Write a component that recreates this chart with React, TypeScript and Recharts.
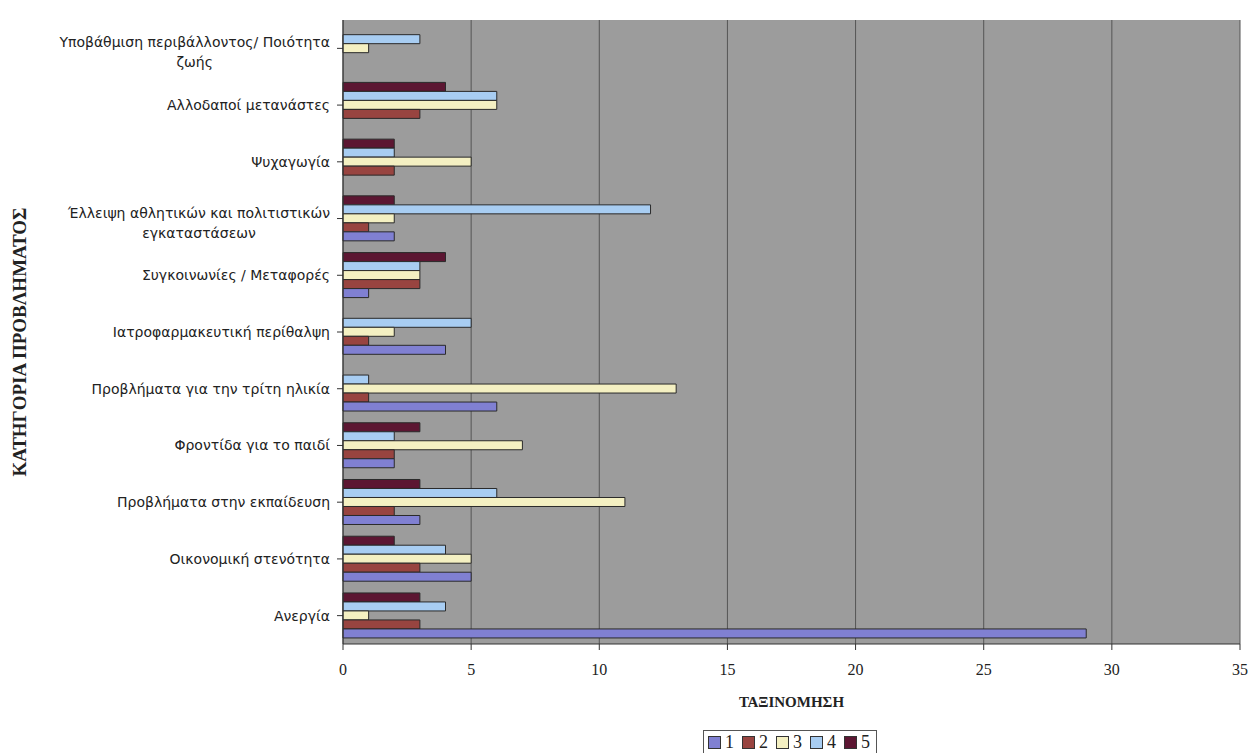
import React from 'react';
import { BarChart, Bar, XAxis, YAxis, CartesianGrid } from 'recharts';

const categories = [
  'Υποβάθμιση περιβάλλοντος/ Ποιότητα ζωής',
  'Αλλοδαποί μετανάστες',
  'Ψυχαγωγία',
  'Έλλειψη αθλητικών και πολιτιστικών εγκαταστάσεων',
  'Συγκοινωνίες / Μεταφορές',
  'Ιατροφαρμακευτική περίθαλψη',
  'Προβλήματα για την τρίτη ηλικία',
  'Φροντίδα για το παιδί',
  'Προβλήματα στην εκπαίδευση',
  'Οικονομική στενότητα',
  'Ανεργία',
];

const s1 = [0, 0, 0, 2, 1, 4, 6, 2, 3, 5, 29];
const s2 = [0, 3, 2, 1, 3, 1, 1, 2, 2, 3, 3];
const s3 = [1, 6, 5, 2, 3, 2, 13, 7, 11, 5, 1];
const s4 = [3, 6, 2, 12, 3, 5, 1, 2, 6, 4, 4];
const s5 = [0, 4, 2, 2, 4, 0, 0, 3, 3, 2, 3];

const xTicks = [0, 5, 10, 15, 20, 25, 30, 35];
const seriesNames = ['1', '2', '3', '4', '5'];
const colors = ['#8080d2', '#984440', '#f4f0c2', '#a8cdf2', '#5c1632'];

const data = categories.map((name, i) => ({
  name,
  s1: s1[i],
  s2: s2[i],
  s3: s3[i],
  s4: s4[i],
  s5: s5[i],
}));

const LABEL_FONT = '14px "DejaVu Sans"';
let ctx: CanvasRenderingContext2D | null = null;
const measure = (t: string) => {
  if (!ctx) {
    const c = document.createElement('canvas');
    ctx = c.getContext('2d');
  }
  if (!ctx) return t.length * 8;
  ctx.font = LABEL_FONT;
  return ctx.measureText(t).width;
};

const wrap = (text: string, maxW: number) => {
  const words = text.split(' ');
  const lines: string[] = [];
  let cur = '';
  for (const w of words) {
    const test = cur ? cur + ' ' + w : w;
    if (measure(test) > maxW && cur) {
      lines.push(cur);
      cur = w;
    } else {
      cur = test;
    }
  }
  if (cur) lines.push(cur);
  return lines;
};

const CatTick = (props: any) => {
  const { y, payload } = props;
  const right = 330;
  const lines = wrap(payload.value, 300);
  const style = { fontFamily: 'DejaVu Sans', fontSize: 14, fill: '#222' };
  if (lines.length === 1) {
    return (
      <text x={right} y={y + 5} textAnchor="end" style={style}>
        {lines[0]}
      </text>
    );
  }
  const w1 = measure(lines[0]);
  return (
    <g>
      <text x={right} y={y - 1} textAnchor="end" style={style}>
        {lines[0]}
      </text>
      <text x={right - w1 / 2} y={y + 19} textAnchor="middle" style={style}>
        {lines[1]}
      </text>
    </g>
  );
};

export default function App() {
  const order = [4, 3, 2, 1, 0];
  return (
    <div style={{ position: 'absolute', left: 0, top: 0, width: 1250, height: 753, background: '#fff', overflow: 'hidden' }}>
      <BarChart
        width={1250}
        height={753}
        data={data}
        layout="vertical"
        margin={{ top: 20, right: 10, left: 0, bottom: 44 }}
        barCategoryGap="10%"
        barGap={0}
      >
        <CartesianGrid horizontal={false} vertical={true} stroke="#555" fill="#9c9c9c" />
        <XAxis
          type="number"
          domain={[0, 35]}
          ticks={xTicks}
          height={65}
          stroke="#333"
          tickLine={{ stroke: '#333' }}
          tickSize={6}
          tickMargin={14}
          tick={{ fontFamily: 'Liberation Serif', fontSize: 16, fill: '#222' }}
          label={{
            value: 'ΤΑΞΙΝΟΜΗΣΗ',
            position: 'insideBottom',
            offset: 2,
            style: { fontFamily: 'Liberation Serif', fontSize: 15, fontWeight: 'bold', fill: '#222' },
          }}
        />
        <YAxis
          type="category"
          dataKey="name"
          width={343}
          stroke="#333"
          tickLine={{ stroke: '#333' }}
          tickSize={6}
          tick={<CatTick />}
          interval={0}
        />
        {order.map((i) => (
          <Bar
            key={i}
            dataKey={'s' + (i + 1)}
            name={seriesNames[i]}
            fill={colors[i]}
            stroke="#2a2a2a"
            strokeWidth={1}
            isAnimationActive={false}
          />
        ))}
      </BarChart>
      <svg style={{ position: 'absolute', left: 0, top: 0 }} width={60} height={753}>
        <text
          x={26}
          y={342}
          transform="rotate(-90 26 342)"
          textAnchor="middle"
          style={{ fontFamily: 'Liberation Serif', fontSize: 19, fontWeight: 'bold', fill: '#222' }}
        >
          ΚΑΤΗΓΟΡΙΑ ΠΡΟΒΛΗΜΑΤΟΣ
        </text>
      </svg>
      <div
        style={{
          position: 'absolute',
          left: 703,
          top: 730,
          width: 174,
          height: 30,
          border: '1px solid #555',
          display: 'flex',
          alignItems: 'flex-start',
          paddingLeft: 4,
          paddingTop: 2,
          boxSizing: 'border-box',
          fontFamily: 'Liberation Serif',
          fontSize: 18,
          color: '#222',
        }}
      >
        {seriesNames.map((n, i) => (
          <div key={n} style={{ display: 'flex', alignItems: 'center', marginRight: 8, height: 19 }}>
            <span
              style={{
                display: 'inline-block',
                width: 11,
                height: 11,
                background: colors[i],
                border: '1px solid #333',
                marginRight: 4,
              }}
            />
            <span>{n}</span>
          </div>
        ))}
      </div>
    </div>
  );
}
